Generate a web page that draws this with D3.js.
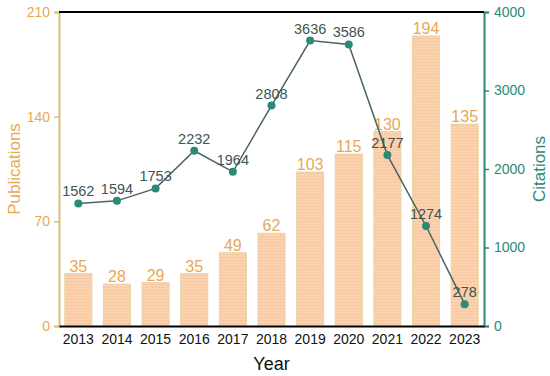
<!DOCTYPE html>
<html lang="en">
  <head>
    <meta charset="UTF-8" />
    <script src="https://cdn.jsdelivr.net/npm/d3@7"></script>
    <style>
      body { margin: 0; background: #fff; }
      text { font-family: "Liberation Sans", Arial, sans-serif; }
    </style>
  </head>
  <body>
    <div id="fig"></div>
    <script>
      const years = ["2013", "2014", "2015", "2016", "2017", "2018", "2019", "2020", "2021", "2022", "2023"];
      const publications = [35, 28, 29, 35, 49, 62, 103, 115, 130, 194, 135];
      const citations = [1562, 1594, 1753, 2232, 1964, 2808, 3636, 3586, 2177, 1274, 278];
      const pubTicks = [0, 70, 140, 210];
      const citTicks = [0, 1000, 2000, 3000, 4000];

      const width = 550, height = 376;
      const margins = { top: 12, bottom: 50, left: 59, right: 66 };
      const w = width - margins.left - margins.right;
      const h = height - margins.top - margins.bottom;

      const tan = "#d9bd7c", orange = "#e8a854", teal = "#2a8a78";

      const svg = d3.select("#fig").append("svg")
        .attr("width", width).attr("height", height);

      const defs = svg.append("defs");
      const pat = defs.append("pattern").attr("id", "stripes")
        .attr("patternUnits", "userSpaceOnUse").attr("width", 4).attr("height", 3);
      pat.append("rect").attr("width", 4).attr("height", 3).attr("fill", "#fbd2ad");
      pat.append("rect").attr("y", 2).attr("width", 4).attr("height", 1).attr("fill", "#f6c9a3");

      const g = svg.append("g").attr("transform", `translate(${margins.left},${margins.top})`);

      const x = d3.scaleBand().domain(years).range([0, w]).paddingInner(0.3).paddingOuter(0.15);
      const yL = d3.scaleLinear().domain([0, 210]).range([h, 0]);
      const yR = d3.scaleLinear().domain([0, 4000]).range([h, 0]);

      // bars
      g.selectAll(".bar").data(publications).join("rect")
        .attr("class", "bar")
        .attr("x", (d, i) => x(years[i]))
        .attr("y", d => yL(d))
        .attr("width", x.bandwidth())
        .attr("height", d => h - yL(d))
        .attr("fill", "url(#stripes)")
        .attr("stroke", "#e8d3a8")
        .attr("stroke-width", 1);

      g.selectAll(".barlab").data(publications).join("text")
        .attr("x", (d, i) => x(years[i]) + x.bandwidth() / 2)
        .attr("y", d => yL(d) - 2)
        .attr("text-anchor", "middle")
        .attr("font-size", 16)
        .attr("fill", orange)
        .text(d => d);

      // line
      const cx = (d, i) => x(years[i]) + x.bandwidth() / 2;
      g.append("path").datum(citations)
        .attr("fill", "none")
        .attr("stroke", "#4a6462")
        .attr("stroke-width", 1.5)
        .attr("d", d3.line().x(cx).y(d => yR(d)));

      g.selectAll(".pt").data(citations).join("circle")
        .attr("cx", cx).attr("cy", d => yR(d)).attr("r", 4)
        .attr("fill", teal);

      g.selectAll(".ptlab").data(citations).join("text")
        .attr("x", cx).attr("y", d => yR(d) - 7)
        .attr("text-anchor", "middle")
        .attr("font-size", 14.5)
        .attr("fill", "#3f5453")
        .text(d => d);

      // axes
      const axL = g.append("g").call(d3.axisLeft(yL).tickValues(pubTicks).tickSize(5).tickPadding(4));
      axL.select(".domain").attr("stroke", tan).attr("stroke-width", 2);
      axL.selectAll(".tick line").attr("stroke", tan).attr("stroke-width", 1.5);
      axL.selectAll(".tick text").attr("fill", orange).attr("font-size", 14).style("font-family", "Liberation Sans, Arial");

      const axR = g.append("g").attr("transform", `translate(${w},0)`)
        .call(d3.axisRight(yR).tickValues(citTicks).tickFormat(d3.format("d")).tickSize(5).tickPadding(5));
      axR.select(".domain").attr("stroke", teal).attr("stroke-width", 2);
      axR.selectAll(".tick line").attr("stroke", teal).attr("stroke-width", 1.5);
      axR.selectAll(".tick text").attr("fill", teal).attr("font-size", 14).style("font-family", "Liberation Sans, Arial");

      const axB = g.append("g").attr("transform", `translate(0,${h})`)
        .call(d3.axisBottom(x).tickSize(0).tickPadding(8));
      axB.select(".domain").attr("stroke", "#000").attr("stroke-width", 2);
      axB.selectAll(".tick text").attr("fill", "#111").attr("font-size", 14).style("font-family", "Liberation Sans, Arial");

      g.append("line").attr("x1", 0).attr("x2", w).attr("y1", 0).attr("y2", 0)
        .attr("stroke", "#000").attr("stroke-width", 2);

      // titles
      svg.append("text").attr("x", margins.left + w / 2).attr("y", 370)
        .attr("text-anchor", "middle").attr("font-size", 18).attr("fill", "#111").text("Year");
      svg.append("text")
        .attr("transform", `translate(20,${margins.top + h / 2}) rotate(-90)`)
        .attr("text-anchor", "middle").attr("font-size", 17).attr("fill", orange).text("Publications");
      svg.append("text")
        .attr("transform", `translate(545,${margins.top + h / 2}) rotate(-90)`)
        .attr("text-anchor", "middle").attr("font-size", 17).attr("fill", teal).text("Citations");
    </script>
  </body>
</html>
